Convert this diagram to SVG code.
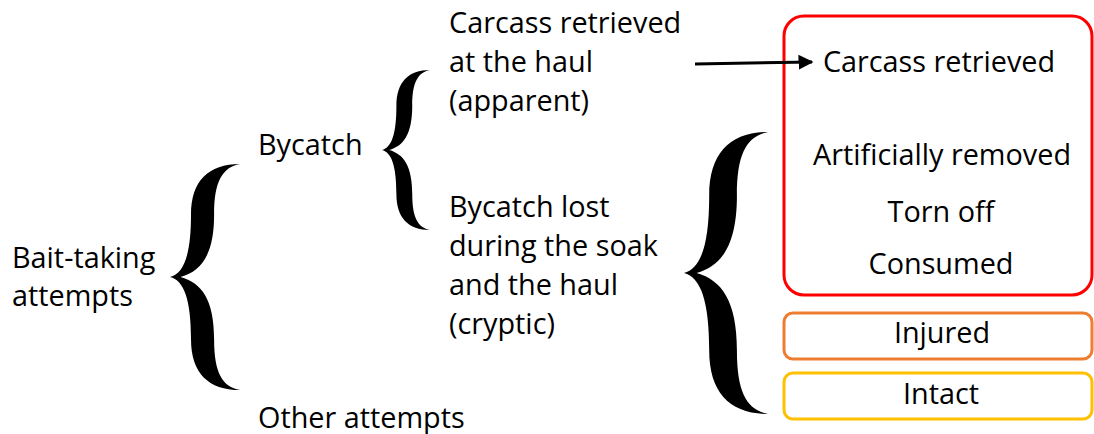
<svg xmlns="http://www.w3.org/2000/svg" width="1094" height="434" viewBox="0 0 1094 434">
<style>
text{font-family:"Open Sans","Liberation Sans",sans-serif;font-size:28.8px;fill:#000}
.m{text-anchor:middle}
.box{fill:none;stroke-width:3}
</style>
<defs>
<path id="brace" d="M1,-1 C0.55,-1 0.3,-0.85 0.3,-0.55 C0.3,-0.2 0.2,-0.03 0,0 C0.2,0.03 0.3,0.2 0.3,0.55 C0.3,0.85 0.55,1 1,1 C0.75,0.97 0.63,0.85 0.63,0.55 C0.63,0.2 0.45,0.05 0.15,0 C0.45,-0.05 0.63,-0.2 0.63,-0.55 C0.63,-0.85 0.75,-0.97 1,-1 Z" fill="#000"/>
<marker id="ah" viewBox="0 0 10 10" refX="9" refY="5" markerWidth="5" markerHeight="5" orient="auto"><path d="M0,0 L10,5 L0,10 Z" fill="#000"/></marker>
</defs>
<rect width="1094" height="434" fill="#fff"/>
<g id="bait-taking">
<text x="12" y="268">Bait-taking</text>
<text x="12" y="306">attempts</text>
</g>
<g id="brace1"><use href="#brace" transform="translate(170,277) scale(70,113)"/></g>
<g id="bycatch"><text x="258" y="155">Bycatch</text></g>
<g id="other"><text x="258" y="428">Other attempts</text></g>
<g id="brace2"><use href="#brace" transform="translate(382,150) scale(48,80)"/></g>
<g id="apparent">
<text x="449" y="33">Carcass retrieved</text>
<text x="449" y="72">at the haul</text>
<text x="449" y="111">(apparent)</text>
</g>
<g id="cryptic">
<text x="449" y="217">Bycatch lost</text>
<text x="449" y="256">during the soak</text>
<text x="449" y="295">and the haul</text>
<text x="449" y="334">(cryptic)</text>
</g>
<g id="brace3"><use href="#brace" transform="translate(684,273) scale(84,141)"/></g>
<g id="red-box">
<rect class="box" x="784" y="16" width="308" height="279" rx="20" stroke="#ff0000"/>
<text class="m" x="939" y="72">Carcass retrieved</text>
<text class="m" x="942" y="165">Artificially removed</text>
<text class="m" x="941" y="222">Torn off</text>
<text class="m" x="941" y="274">Consumed</text>
</g>
<g id="injured">
<rect class="box" x="784" y="313" width="308" height="46" rx="9" stroke="#ed7d31"/>
<text class="m" x="942" y="343">Injured</text>
</g>
<g id="intact">
<rect class="box" x="784" y="373" width="308" height="46" rx="9" stroke="#ffc000"/>
<text class="m" x="941" y="404">Intact</text>
</g>
<g id="connectors">
<path d="M695,64 L812,62" stroke="#000" stroke-width="3" fill="none" marker-end="url(#ah)"/>
</g>
</svg>
